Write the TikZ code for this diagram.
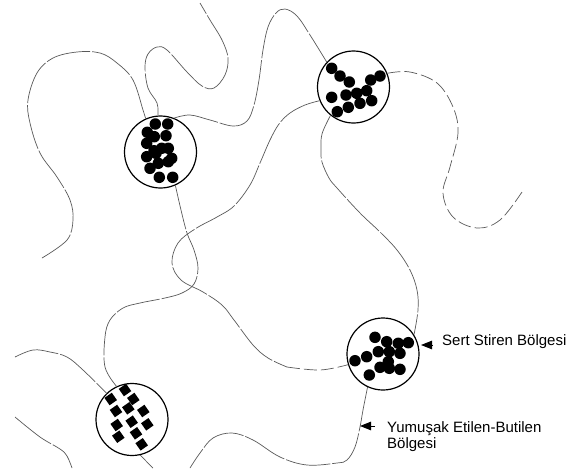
\documentclass[tikz,border=0pt]{standalone}
\usepackage{fontspec}
\setmainfont{Liberation Sans}
\usetikzlibrary{arrows.meta}

\tikzset{
  hardphase/.style={circle, draw, line width=1.2pt, minimum size=72pt, inner sep=0pt},
  hardbead/.style={circle, fill=black, inner sep=0pt, minimum size=11.5pt},
  softbead/.style={rectangle, fill=black, inner sep=0pt, minimum size=9pt, rotate=35},
  chain/.style={draw=black!65, line width=0.7pt, dash pattern=on 45pt off 2pt},
  brokenchain/.style={chain, dash pattern=on 13pt off 4pt},
  pointer/.style={-{Triangle[length=11pt,width=8.5pt]}, line width=1pt},
  note/.style={font=\fontsize{15}{16.5}\selectfont, inner sep=0pt, align=left}
}

\begin{document}
\begin{tikzpicture}[x=1pt, y=-1pt]
  \useasboundingbox (0,0) rectangle (571,475);

  % styrene domains
  \node[hardphase] (d1) at (160.5,152) {};
  \node[hardphase] (d2) at (353.5,87) {};
  \node[hardphase] (d3) at (383,354) {};
  \node[hardphase] (d4) at (132,419.5) {};

  \foreach \p [count=\i] in {(155.3,124),(167.7,124),(147.3,132.3),(154.3,136.7),(166,135.7),
      (146.7,143.3),(154,150.7),(161.7,148.3),(168.3,148.3),(146.7,156.7),(156,153.3),
      (171.7,158.3),(150,168.3),(158.3,163.3),(168.3,161.7),(159.3,177.3),(172.7,177.3)}
    \node[hardbead] (a\i) at \p {};
  \foreach \p [count=\i] in {(331.7,68.3),(340,76),(349.3,82),(370.7,80),(380,76),(366.7,90.7),
      (356.7,93.3),(346,95),(331.7,97.3),(371.7,100.7),(360,103.3),(348.3,107.3),(337.3,111.7)}
    \node[hardbead] (b\i) at \p {};
  \foreach \p [count=\i] in {(375,337.3),(386.7,341.7),(398.3,343.3),(408.3,342.7),(378.3,351.7),
      (389.3,351.7),(400,353.3),(366.7,356.7),(355,360.7),(388.3,361.7),(380,367.3),
      (389.3,368.3),(400,369.3),(369.3,375)}
    \node[hardbead] (c\i) at \p {};
  \foreach \p [count=\i] in {(125,390),(133.3,399),(110.7,399),(116,411),(128.3,408.3),
      (143.3,411),(131.7,421.7),(116.7,425),(147.3,424.3),(136,433.3),(118.3,436.7),(141.7,444.3)}
    \node[softbead] (s\i) at \p {};

  % rubber chains
  \draw[chain] plot[smooth, tension=0.6] coordinates {(d1.94) (157,103) (148,88) (145,67)
      (148,54) (157,47) (167,50) (187,72) (202,86) (214,88) (225,75) (228,58) (222,40)
      (210,20) (200,3)};
  \draw[chain] plot[smooth, tension=0.6] coordinates {(d1.114) (143,110) (133,80) (117,63)
      (100,53) (77,52) (53,58) (37,73) (28,100) (30,123) (40,153) (57,177) (70,200)
      (73,220) (67,240) (42,258)};
  \draw[chain] plot[smooth, tension=0.6] coordinates {(d1.68) (190,115) (210,120) (233,126)
      (247,121) (254,105) (259,80) (263,50) (268,27) (276,13) (285,9) (297,16) (310,35)
      (d2.137)};
  \draw[chain] plot[smooth, tension=0.6] coordinates {(d1.-66) (181,210) (187,233) (194,250)
      (198,268) (194,284) (182,293) (165,298) (140,303) (123,308) (110,320) (105,337)
      (105,367) (d4.115)};
  \draw[chain] plot[smooth, tension=0.6] coordinates {(d2.202) (305,105) (290,113) (279,124)
      (270,140) (260,163) (250,185) (234,206) (217,217) (195,229) (178,243) (172,263)
      (181,280) (203,292) (222,305) (234,320) (253,345) (268,358) (287,367)};
  \draw[brokenchain] plot[smooth, tension=0.6] coordinates {(287,367) (320,370) (d3.197)};
  \draw[chain] plot[smooth, tension=0.6] coordinates {(d2.231) (322,134) (321,150) (322,162)
      (329,178) (337,188) (360,213) (380,232) (397,250) (410,270) (417,290) (418,310)
      (d3.32)};
  \draw[brokenchain] plot[smooth, tension=0.6] coordinates {(d2.22) (410,72) (437,83)
      (453,107) (458,133) (450,167) (443,193) (453,217) (477,228) (500,220) (522,192)};
  \draw[chain] plot[smooth, tension=0.6] coordinates {(d3.245) (363,410) (360,427) (355,447)
      (347,460) (337,463) (307,465) (280,457) (253,440) (232,433) (213,438) (200,453)
      (190,468)};
  \draw[chain] plot[smooth, tension=0.6] coordinates {(15,357) (33,350) (50,352) (67,357)
      (83,370) (d4.134)};
  \draw[chain] plot[smooth, tension=0.6] coordinates {(15,417) (40,437) (60,449) (67,456)
      (72,468)};
  \draw[chain] plot[smooth, tension=0.6] coordinates {(d4.283) (147,462) (153,468)};

  % labels
  \node[note, anchor=base west] (sert) at (442,345) {Sert Stiren Bölgesi};
  \node[note, anchor=north west] (yumusak) at (387,421) {Yumuşak Etilen-Butilen\\Bölgesi};
  \coordinate (sertTip) at (421,345);
  \coordinate (yumusakTip) at (360,426);
  \draw[pointer] (sert.base west) ++(-10,0) -- (sertTip);
  \draw[pointer] (yumusak.north west) ++(-12,5) -- (yumusakTip);
\end{tikzpicture}
\end{document}
